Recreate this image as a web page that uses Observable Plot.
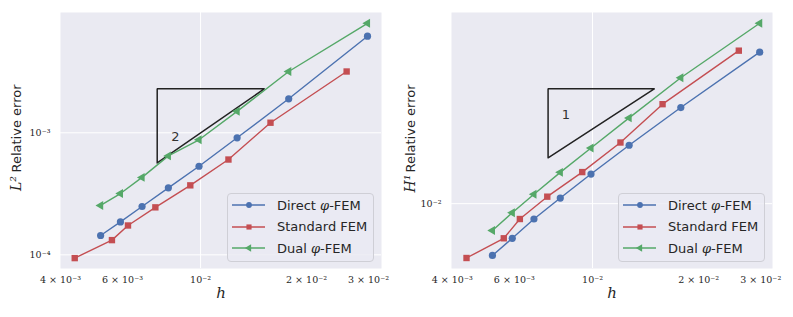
<!DOCTYPE html>
<html><head><meta charset="utf-8">
<script src="https://cdn.jsdelivr.net/npm/d3@7"></script>
<script src="https://cdn.jsdelivr.net/npm/@observablehq/plot@0.6"></script>
<style>
body{margin:0;background:#fff;}
#wrap{position:relative;width:793px;height:317px;overflow:hidden;}
.panel{position:absolute;top:0;}
.legend{position:absolute;box-sizing:border-box;border:1px solid #cfcfd6;border-radius:4px;background:rgba(234,234,242,0.8);font-family:"DejaVu Sans",sans-serif;font-size:13px;color:#262626;}
.legend .row{position:absolute;left:0;height:20px;display:flex;align-items:center;}
.legend .row span{position:absolute;left:49px;white-space:nowrap;}
.legend i{font-family:"DejaVu Serif",serif;}
</style></head><body><div id="wrap"></div>
<script>
// ---- data ----
const seriesNames = ["Direct φ-FEM", "Standard FEM", "Dual φ-FEM"];
const hPhi = [5.2e-3, 5.92e-3, 6.82e-3, 8.1e-3, 9.9e-3, 1.27e-2, 1.78e-2, 2.98e-2];
const hStd = [4.39e-3, 5.6e-3, 6.22e-3, 7.44e-3, 9.35e-3, 1.2e-2, 1.58e-2, 2.6e-2];
const l2Direct = [1.44e-4, 1.86e-4, 2.49e-4, 3.54e-4, 5.32e-4, 9.1e-4, 1.90e-3, 6.19e-3];
const l2Std = [9.4e-5, 1.32e-4, 1.74e-4, 2.45e-4, 3.71e-4, 6.04e-4, 1.21e-3, 3.18e-3];
const l2Dual = [2.54e-4, 3.18e-4, 4.31e-4, 6.47e-4, 8.77e-4, 1.50e-3, 3.18e-3, 7.9e-3];
const h1Direct = [5.94e-3, 7.06e-3, 8.57e-3, 1.058e-2, 1.347e-2, 1.80e-2, 2.63e-2, 4.59e-2];
const h1Std = [5.79e-3, 7.06e-3, 8.57e-3, 1.073e-2, 1.374e-2, 1.85e-2, 2.72e-2, 4.66e-2];
const h1Dual = [7.64e-3, 9.13e-3, 1.10e-2, 1.37e-2, 1.75e-2, 2.37e-2, 3.55e-2, 6.14e-2];
const xTicks = [4e-3, 6e-3, 1e-2, 2e-2, 3e-2];
const xTickLabels = ["4 × 10⁻³", "6 × 10⁻³", "10⁻²", "2 × 10⁻²", "3 × 10⁻²"];
const l2Ticks = [1e-3, 1e-4];
const l2TickLabels = ["10⁻³", "10⁻⁴"];
const h1Ticks = [1e-2];
const h1TickLabels = ["10⁻²"];
// slope triangles (vertices) and their labels
const triL2X = [7.53e-3, 7.53e-3, 1.52e-2, 7.53e-3];
const triL2Y = [5.66e-4, 2.30e-3, 2.30e-3, 5.66e-4];
const triL2Label = {x: 8.48e-3, y: 9.2e-4, text: "2"};
const triH1X = [7.48e-3, 7.48e-3, 1.50e-2, 7.48e-3];
const triH1Y = [1.586e-2, 3.18e-2, 3.18e-2, 1.586e-2];
const triH1Label = {x: 8.4e-3, y: 2.45e-2, text: "1"};

const colors = ["#4C72B0", "#C44E52", "#55A868"];
const symbols = ["circle", "square", "triangle"];
const radii = [3.6, 3.6, 3.3];
const rotates = [0, 0, -90];

function rows(xs, ys) { return xs.map((x, i) => ({x, y: ys[i]})); }

function makePanel(opts) {
  const {width, marginLeft, marginRight, xDomain, yDomain, series, yTicks, yTickLabels,
         triX, triY, triLabel, yLabelMath, yLabelDx} = opts;
  const xfmt = d => xTickLabels[xTicks.findIndex(t => Math.abs(t - d) / t < 1e-6)];
  const yfmt = d => yTickLabels[yTicks.findIndex(t => Math.abs(t - d) / t < 1e-6)];
  const marks = [
    Plot.frame({fill: "#EAEAF2", stroke: "none"}),
    Plot.gridX({ticks: [1e-2], stroke: "white", strokeOpacity: 1, strokeWidth: 1}),
    Plot.gridY({ticks: yTicks, stroke: "white", strokeOpacity: 1, strokeWidth: 1}),
    Plot.axisX({ticks: xTicks, tickFormat: xfmt, tickSize: 0, tickPadding: 8, label: null,
                fontFamily: "DejaVu Serif", fontSize: 9.5, fill: "#262626"}),
    Plot.axisY({ticks: yTicks, tickFormat: yfmt, tickSize: 0, tickPadding: 10, label: null,
                fontFamily: "DejaVu Serif", fontSize: 9.5, fill: "#262626"}),
    Plot.line(rows(triX, triY), {x: "x", y: "y", stroke: "#222", strokeWidth: 1.5, strokeLinejoin: "miter"}),
    Plot.text([triLabel], {x: "x", y: "y", text: "text", fontSize: 13, fill: "#333", fontFamily: "DejaVu Sans"}),
  ];
  series.forEach((s, k) => {
    const d = rows(s.x, s.y);
    marks.push(Plot.line(d, {x: "x", y: "y", stroke: colors[k], strokeWidth: 1.4}));
  });
  series.forEach((s, k) => {
    const d = rows(s.x, s.y);
    marks.push(Plot.dot(d, {x: "x", y: "y", fill: colors[k], symbol: symbols[k], r: radii[k], rotate: rotates[k]}));
  });
  marks.push(Plot.text(["h"], {frameAnchor: "bottom", dy: 29, fontFamily: "DejaVu Serif", fontStyle: "italic", fontSize: 15, fill: "#262626"}));
  marks.push(Plot.text(["Relative error"], {frameAnchor: "left", textAnchor: "middle", dx: yLabelDx, dy: -12, rotate: -90, fontFamily: "DejaVu Sans", fontSize: 13, fill: "#262626"}));
  marks.push(Plot.text([yLabelMath], {frameAnchor: "left", textAnchor: "middle", dx: yLabelDx, dy: 43, rotate: -90, fontFamily: "DejaVu Serif", fontStyle: "italic", fontSize: 14, fill: "#262626"}));
  return Plot.plot({
    width, height: 317, marginLeft, marginRight, marginTop: 12, marginBottom: 49,
    style: {background: "transparent", fontFamily: "DejaVu Sans", color: "#262626"},
    x: {type: "log", domain: xDomain},
    y: {type: "log", domain: yDomain},
    marks
  });
}

function legendHTML(left, top) {
  const div = document.createElement("div");
  div.className = "legend";
  Object.assign(div.style, {left: left + "px", top: top + "px", width: "147px", height: "69px"});
  const ys = [12, 33.7, 55.3];
  const labels = ['Direct <i>φ</i>-FEM', 'Standard FEM', 'Dual <i>φ</i>-FEM'];
  ys.forEach((y, k) => {
    const row = document.createElement("div");
    row.className = "row";
    row.style.top = (y - 10 - 1) + "px";
    row.style.width = "147px";
    const svg = d3.create("svg").attr("width", 45).attr("height", 20).style("position", "absolute").style("left", "0px");
    svg.append("line").attr("x1", 4).attr("x2", 37).attr("y1", 10).attr("y2", 10).attr("stroke", colors[k]).attr("stroke-width", 1.4);
    const sym = {circle: d3.symbolCircle, square: d3.symbolSquare, triangle: d3.symbolTriangle}[symbols[k]];
    const rr = [2.9, 2.9, 2.7][k];
    svg.append("path").attr("d", d3.symbol(sym, Math.PI * rr * rr)()).attr("fill", colors[k])
      .attr("transform", `translate(21,10) rotate(${rotates[k]})`);
    row.appendChild(svg.node());
    const sp = document.createElement("span");
    sp.innerHTML = labels[k];
    row.appendChild(sp);
    div.appendChild(row);
  });
  return div;
}

const wrap = document.getElementById("wrap");
const left = makePanel({
  width: 396, marginLeft: 60, marginRight: 15,
  xDomain: [4.0e-3, 3.266e-2], yDomain: [Math.pow(10, -4.112), Math.pow(10, -2.014)],
  series: [{x: hPhi, y: l2Direct}, {x: hStd, y: l2Std}, {x: hPhi, y: l2Dual}],
  yTicks: l2Ticks, yTickLabels: l2TickLabels,
  triX: triL2X, triY: triL2Y, triLabel: triL2Label, yLabelMath: "L²", yLabelDx: -44
});
const right = makePanel({
  width: 397, marginLeft: 55, marginRight: 21,
  xDomain: [3.98e-3, 3.24e-2], yDomain: [5.21e-3, 6.84e-2],
  series: [{x: hPhi, y: h1Direct}, {x: hStd, y: h1Std}, {x: hPhi, y: h1Dual}],
  yTicks: h1Ticks, yTickLabels: h1TickLabels,
  triX: triH1X, triY: triH1Y, triLabel: triH1Label, yLabelMath: "H¹", yLabelDx: -41
});
const p1 = document.createElement("div"); p1.className = "panel"; p1.style.left = "0px"; p1.appendChild(left);
const p2 = document.createElement("div"); p2.className = "panel"; p2.style.left = "396px"; p2.appendChild(right);
wrap.appendChild(p1); wrap.appendChild(p2);
wrap.appendChild(legendHTML(227, 193));
wrap.appendChild(legendHTML(618, 193));
</script>
</body></html>
